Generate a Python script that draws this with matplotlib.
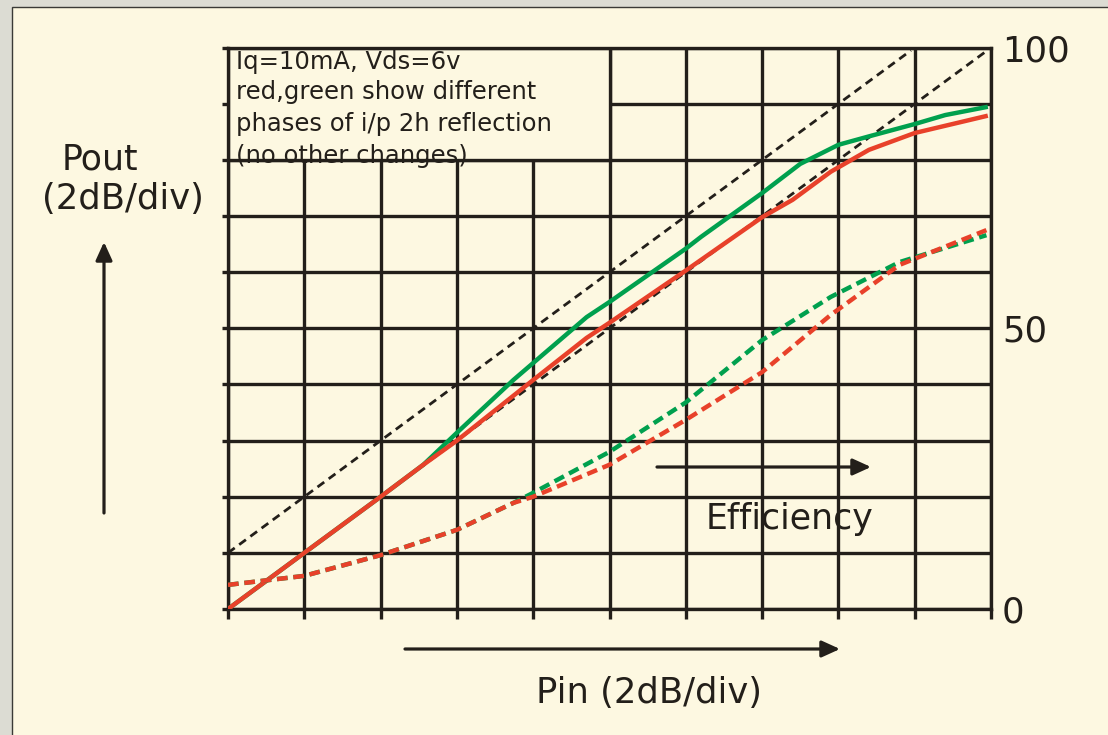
import numpy as np
import matplotlib
matplotlib.use("Agg")
import matplotlib.pyplot as plt
from matplotlib.patches import Rectangle

# Pin / Pout in divisions (2 dB/div)
pin_green = [0, 1.0, 2.0, 2.56, 3.0, 3.74, 4.7, 5.0, 6.0, 6.2, 7.0, 7.5, 8.0, 8.4, 9.0, 9.4, 9.93]
pout_green = [0, 1.0, 2.0, 2.57, 3.14, 4.08, 5.2, 5.47, 6.42, 6.63, 7.41, 7.93, 8.27, 8.42, 8.64, 8.80, 8.94]

pin_red = [0, 1.0, 2.0, 2.56, 3.0, 4.0, 4.7, 5.0, 6.0, 7.0, 7.4, 7.9, 8.4, 9.0, 9.93]
pout_red = [0, 1.0, 2.0, 2.57, 3.0, 4.08, 4.83, 5.1, 6.03, 6.98, 7.29, 7.79, 8.18, 8.48, 8.78]

# efficiency in %
pin_eff = [0, 1.0, 2.0, 3.0, 3.74, 4.0, 5.0, 6.0, 7.0, 7.9, 8.8, 9.94]
eff_green = [4.3, 5.9, 9.6, 14.1, 18.9, 20.7, 28.0, 36.8, 47.9, 55.6, 61.8, 66.6]
eff_red = [4.3, 5.9, 9.6, 14.1, 18.9, 20.0, 25.7, 33.7, 42.2, 52.4, 61.3, 67.5]

# reference slopes (1 dB/dB)
ref1_x = [0, 8.95]
ref1_y = [1, 9.95]
ref2_x = [0, 9.95]
ref2_y = [0, 9.95]

box_lines = ["Iq=10mA, Vds=6v",
             "red,green show different",
             "phases of i/p 2h reflection",
             "(no other changes)"]

dark = "#231f1a"
cream = "#fdf8e1"
green = "#00a04e"
red = "#e8412a"
W, H = 1108, 735
glw = 2.4

fig = plt.figure(figsize=(W / 100, H / 100), dpi=100)
fig.patch.set_facecolor("#dcdcd3")
fig.patches.append(Rectangle((12 / W, -0.1), 1.2, 1.1 - 7 / H, transform=fig.transFigure,
                             facecolor=cream, edgecolor="#3a3a36", lw=1.0, zorder=-5))

ax = fig.add_axes([228 / W, 126 / H, 763 / W, 561.3 / H])
ax.set_facecolor(cream)
ax.set_xlim(0, 10)
ax.set_ylim(0, 10)
ax.set_xticks(range(11))
ax.set_yticks(range(11))
ax.set_axisbelow(True)
ax.grid(True, color=dark, lw=glw)
ax.tick_params(axis="x", length=7.2, width=glw, color=dark, direction="out", labelbottom=False)
ax.tick_params(axis="y", length=4.3, width=glw, color=dark, direction="out", labelleft=False)
for s in ax.spines.values():
    s.set_color(dark)
    s.set_linewidth(glw)

box = Rectangle((0, 8), 5, 2, facecolor=cream, edgecolor=dark, lw=glw, zorder=1)
ax.add_patch(box)
baselines = [9.62, 9.08, 8.52, 7.95]
for line, yb in zip(box_lines, baselines):
    t = ax.text(0.1, yb, line, fontsize=17.5, color=dark, va="baseline", ha="left", zorder=1.2)
    t.set_clip_path(box)

ax.plot(ref1_x, ref1_y, color=dark, lw=2.0, ls=(0, (3, 2)), zorder=2)
ax.plot(ref2_x, ref2_y, color=dark, lw=2.0, ls=(0, (3, 2)), zorder=2)
ax.plot(pin_green, pout_green, color=green, lw=3.2, zorder=3)
ax.plot(pin_red, pout_red, color=red, lw=3.2, zorder=3)

ax2 = ax.twinx()
ax2.set_ylim(0, 100)
ax2.set_yticks([0, 50, 100])
ax2.tick_params(axis="y", length=0, pad=8, labelsize=25.5, labelcolor=dark)
for s in ax2.spines.values():
    s.set_visible(False)
ax2.plot(pin_eff, eff_green, color=green, lw=3.2, ls=(0, (2.4, 1.3)), zorder=3)
ax2.plot(pin_eff, eff_red, color=red, lw=3.2, ls=(0, (2.4, 1.3)), zorder=3)

# labels and arrows (figure pixels)
fig.text(62 / W, 1 - 170 / H, "Pout", fontsize=25, color=dark, ha="left", va="baseline")
fig.text(123 / W, 1 - 199 / H, "(2dB/div)", fontsize=25.5, color=dark, ha="center", va="center")
fig.text(649 / W, 1 - 703 / H, "Pin (2dB/div)", fontsize=25.5, color=dark, ha="center", va="baseline")
fig.text(790 / W, 1 - 529 / H, "Efficiency", fontsize=25, color=dark, ha="center", va="baseline")

arrow = dict(arrowstyle="-|>,head_length=1.1,head_width=0.5", color=dark, lw=2.3,
             shrinkA=0, shrinkB=0)
ax2.annotate("", xy=(104, H - 242), xytext=(104, H - 513), xycoords="figure pixels",
             textcoords="figure pixels", arrowprops=arrow, annotation_clip=False)
ax2.annotate("", xy=(840, H - 649), xytext=(405, H - 649), xycoords="figure pixels",
             textcoords="figure pixels", arrowprops=arrow, annotation_clip=False)
ax2.annotate("", xy=(871, H - 467), xytext=(657, H - 467), xycoords="figure pixels",
             textcoords="figure pixels", arrowprops=arrow, annotation_clip=False)

fig.savefig("out.png", dpi=100, facecolor=fig.get_facecolor())
